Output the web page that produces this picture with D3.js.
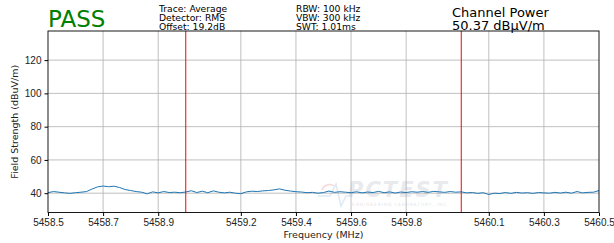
<!DOCTYPE html>
<html>
<head>
<meta charset="utf-8">
<script src="https://cdn.jsdelivr.net/npm/d3@7"></script>
<style>
  body { margin: 0; background: #fff; }
  svg { font-family: "DejaVu Sans", sans-serif; }
  .grid line { stroke: #b0b0b0; stroke-width: 0.8; }
  .axis text { font-size: 10px; fill: #222; }
  .axis path, .axis line { stroke: #000; }
</style>
</head>
<body>
<svg id="chart" width="614" height="243"></svg>
<script>
// trace samples, 0.02 MHz apart starting at 5458.5 MHz
var freqStart = 5458.5, freqStep = 0.02;
var levels = [
  40.3, 41.0, 40.6, 40.2, 39.9, 40.3, 40.6, 41.0, 42.5, 43.8,
  44.3, 43.9, 44.2, 43.4, 42.2, 41.6, 41.0, 40.6, 39.6, 40.8,
  40.2, 41.0, 40.4, 40.6, 40.3, 40.7, 41.5, 40.4, 41.2, 40.3,
  41.4, 40.6, 40.2, 40.6, 40.0, 39.7, 40.8, 41.2, 41.0, 41.4,
  41.6, 42.0, 42.6, 41.8, 41.3, 40.9, 40.7, 40.3, 40.5, 40.0,
  40.4, 41.3, 40.5, 40.9, 40.6, 40.3, 40.8, 40.2, 40.7, 40.4,
  41.1, 40.3, 40.8, 40.1, 40.7, 40.4, 40.9, 40.6, 41.0, 40.5,
  41.1, 40.8, 40.5, 41.0, 40.6, 40.8, 40.2, 40.4, 39.9, 40.3,
  39.2, 40.0, 39.8, 40.4, 39.9, 40.5, 40.1, 40.3, 39.9, 40.4,
  40.2, 40.0, 40.5, 40.1, 40.6, 40.0, 41.0, 40.2, 40.5, 40.6,
  41.6
];
var xTicks = [5458.5, 5458.7, 5458.9, 5459.2, 5459.4, 5459.6, 5459.8, 5460.1, 5460.3, 5460.5];
var yTicks = [40, 60, 80, 100, 120];
var markers = [5459.0, 5460.0];   // channel edges
var infoLeft = ["Trace: Average", "Detector: RMS", "Offset: 19.2dB"];
var infoMid = ["RBW: 100 kHz", "VBW: 300 kHz", "SWT: 1.01ms"];
var verdict = "PASS";
var powerTitle = "Channel Power";
var powerValue = "50.37 dBµV/m";

(function(){
	var svg = d3.select("#chart");
	var pl = 48, pr = 599, pt = 31, pb = 212.5;

	var x = d3.scaleLinear().domain([5458.5, 5460.5]).range([pl, pr]);
	var y = d3.scaleLinear().domain([28.4, 137.5]).range([pb, pt]);

	var data = levels.map(function(v, i){ return [freqStart + i*freqStep, v]; });

	// grid
	var grid = svg.append("g").attr("class","grid");
	grid.selectAll(".vg").data(xTicks.slice(1, -1)).enter().append("line")
		.attr("x1", x).attr("x2", x).attr("y1", pt).attr("y2", pb);
	grid.selectAll(".hg").data(yTicks).enter().append("line")
		.attr("x1", pl).attr("x2", pr).attr("y1", y).attr("y2", y);

	// watermark
	var wm = svg.append("g").attr("opacity", 0.22);
	wm.append("text").attr("x", 348).attr("y", 197)
		.attr("font-size", 21).attr("font-weight", "bold").attr("font-style", "italic")
		.attr("fill", "#9aa5b5").attr("letter-spacing", 2).text("PCTEST");
	wm.append("text").attr("x", 352).attr("y", 206)
		.attr("font-size", 4.5).attr("fill", "#7d8795").attr("letter-spacing", 0.8)
		.text("ENGINEERING LABORATORY, INC.");
	wm.append("path").attr("d", "M318,196 L330,196 L336,184 L341,206 L346,196 L352,196")
		.attr("fill", "none").attr("stroke", "#6f9fd0").attr("stroke-width", 1.5);
	wm.append("path").attr("d", "M322,190 A8,8 0 0,1 334,186")
		.attr("fill", "none").attr("stroke", "#e05050").attr("stroke-width", 1.5);

	// trace
	var line = d3.line().x(function(d){ return x(d[0]); }).y(function(d){ return y(d[1]); });
	svg.append("path").datum(data)
		.attr("d", line)
		.attr("fill", "none")
		.attr("stroke", "#1f77b4")
		.attr("stroke-width", 1);

	// channel edge markers
	svg.selectAll(".marker").data(markers).enter().append("line")
		.attr("x1", x).attr("x2", x).attr("y1", pt).attr("y2", pb)
		.attr("stroke", "#ff0000").attr("stroke-width", 1);

	// frame
	svg.append("rect").attr("x", pl).attr("y", pt)
		.attr("width", pr-pl).attr("height", pb-pt)
		.attr("fill", "none").attr("stroke", "#000").attr("stroke-width", 0.9);

	// axes
	svg.append("g").attr("class","axis")
		.attr("transform","translate(0,"+pb+")")
		.call(d3.axisBottom(x).tickValues(xTicks).tickSize(3.5).tickPadding(3).tickFormat(d3.format(".1f")))
		.call(function(g){ g.select(".domain").remove(); });
	svg.append("g").attr("class","axis")
		.attr("transform","translate("+pl+",0)")
		.call(d3.axisLeft(y).tickValues(yTicks).tickSize(3.5).tickPadding(3))
		.call(function(g){ g.select(".domain").remove(); });

	svg.append("text").attr("x", (pl+pr)/2).attr("y", 238)
		.attr("text-anchor","middle").attr("font-size", 9.5).attr("fill","#222")
		.text("Frequency (MHz)");
	svg.append("text").attr("transform","translate(18,"+((pt+pb)/2)+") rotate(-90)")
		.attr("text-anchor","middle").attr("font-size", 9.5).attr("fill","#222")
		.text("Field Strength (dBuV/m)");

	// header
	svg.append("text").attr("x", 48).attr("y", 27)
		.attr("font-size", 23).attr("fill", "#008000").text(verdict);
	svg.selectAll(".infoL").data(infoLeft).enter().append("text")
		.attr("x", 159).attr("y", function(d,i){ return 11.5 + i*9; })
		.attr("font-size", 9.2).attr("fill","#000").text(function(d){ return d; });
	svg.selectAll(".infoM").data(infoMid).enter().append("text")
		.attr("x", 296).attr("y", function(d,i){ return 11.5 + i*9; })
		.attr("font-size", 9.2).attr("fill","#000").text(function(d){ return d; });
	svg.append("text").attr("x", 452).attr("y", 17)
		.attr("font-size", 13).attr("fill","#000").text(powerTitle);
	svg.append("text").attr("x", 452).attr("y", 30)
		.attr("font-size", 13).attr("fill","#000").text(powerValue);
})();
</script>
</body>
</html>
